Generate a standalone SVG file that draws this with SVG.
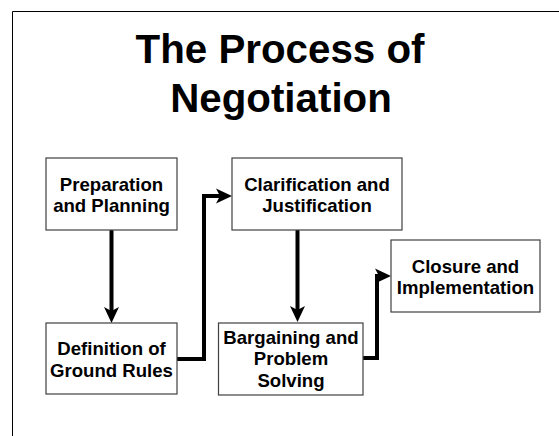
<svg xmlns="http://www.w3.org/2000/svg" width="559" height="436" viewBox="0 0 559 436">
<style>
.box{fill:#fff;stroke:#404040;stroke-width:1.2}
.lbl{font-family:"Liberation Sans",Arial,sans-serif;font-weight:bold;font-size:18.6px;fill:#000;text-anchor:middle}
.title{font-family:"Liberation Sans",Arial,sans-serif;font-weight:bold;font-size:40.3px;fill:#000;text-anchor:middle}
.conn{fill:none;stroke:#000;stroke-width:4;stroke-linecap:round;stroke-linejoin:miter}
</style>
<defs>
<marker id="arr" viewBox="-17 -8 17 16" refX="-12" refY="0" markerWidth="17" markerHeight="16" markerUnits="userSpaceOnUse" orient="auto">
<path d="M0,0 L-16,-7.5 L-12,0 L-16,7.5 Z" fill="#000"/>
</marker>
</defs>
<rect width="559" height="436" fill="#fff"/>
<path d="M12.5,436 V11.5 H559" fill="none" stroke="#000" stroke-width="1"/>
<g id="title">
<text class="title" x="280" y="62.5">The Process of</text>
<text class="title" x="281" y="112">Negotiation</text>
</g>
<g id="connectors">
<path class="conn" d="M111.5,231 V311" marker-end="url(#arr)"/>
<path class="conn" d="M178,359 H204 V196 H220" marker-end="url(#arr)"/>
<path class="conn" d="M297.5,231 V310" marker-end="url(#arr)"/>
<path class="conn" d="M364,358 H377 V276 H379" marker-end="url(#arr)"/>
</g>
<g id="prep">
<rect class="box" x="46" y="158" width="131" height="72"/>
<text class="lbl" x="111.5" y="191">Preparation</text>
<text class="lbl" x="111.5" y="212">and Planning</text>
</g>
<g id="clar">
<rect class="box" x="232" y="158" width="170" height="72"/>
<text class="lbl" x="317" y="191">Clarification and</text>
<text class="lbl" x="317" y="212">Justification</text>
</g>
<g id="def">
<rect class="box" x="46" y="323" width="131" height="71"/>
<text class="lbl" x="111.5" y="355">Definition of</text>
<text class="lbl" x="111.5" y="376.5">Ground Rules</text>
</g>
<g id="barg">
<rect class="box" x="218.5" y="323" width="144.5" height="72"/>
<text class="lbl" x="291" y="343.5">Bargaining and</text>
<text class="lbl" x="291" y="365">Problem</text>
<text class="lbl" x="291" y="386.5">Solving</text>
</g>
<g id="closure">
<rect class="box" x="391" y="240" width="149" height="72"/>
<text class="lbl" x="465.5" y="273">Closure and</text>
<text class="lbl" x="465.5" y="294">Implementation</text>
</g>
</svg>
